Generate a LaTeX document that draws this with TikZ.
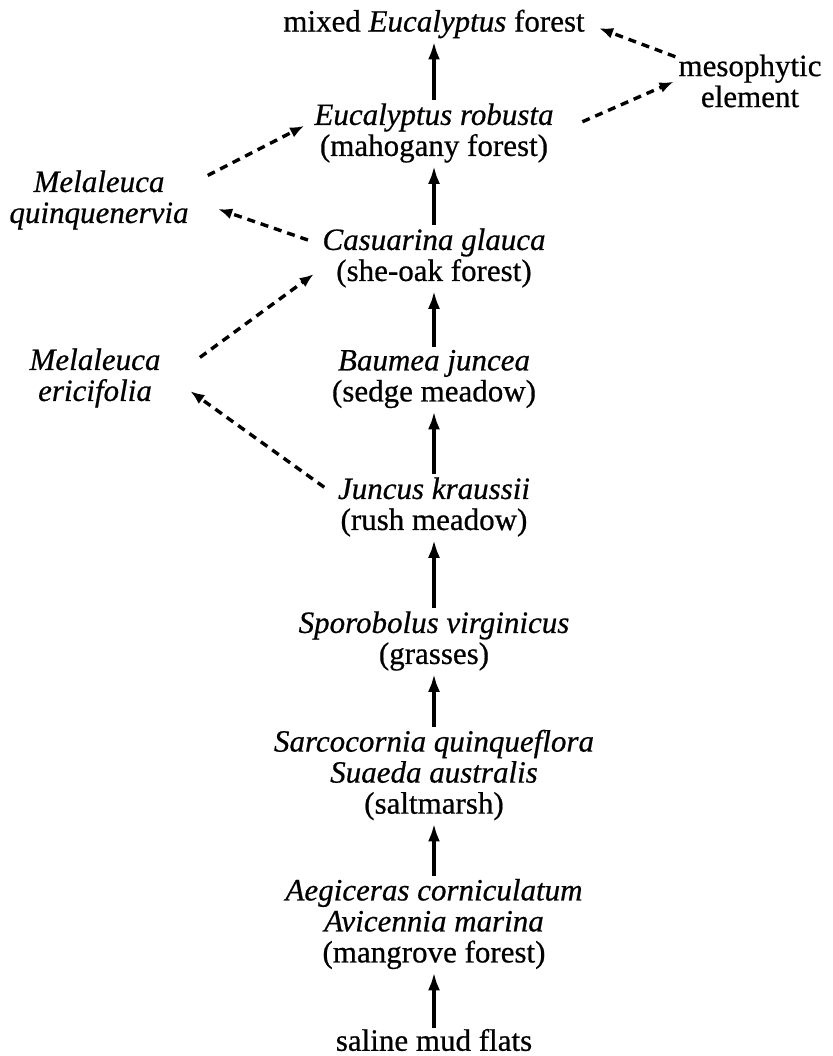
\documentclass[tikz,border=0pt]{standalone}
\usepackage{fontspec}
\setmainfont{Liberation Serif}[FakeBold=0.6]
\usepackage{tikz}
\usetikzlibrary{arrows.meta}

\begin{document}
\begin{tikzpicture}[x=1pt, y=-1pt,
  stage/.style={align=center, font=\fontsize{31}{31}\selectfont, inner sep=3pt},
  succ/.style={-{Latex[length=18pt,width=12pt]}, line width=3.6pt},
  influence/.style={-{Latex[length=14pt,width=11pt]}, line width=3.4pt, dash pattern=on 8pt off 6pt}]
  \useasboundingbox (0,0) rectangle (832,1056);
  % Succession column, from top to bottom
  \node[stage] (mixed) at (434,24) {mixed \textit{Eucalyptus} forest};
  \node[stage] (robusta) at (434,133) {\textit{Eucalyptus robusta}\\(mahogany forest)};
  \node[stage] (casuarina) at (434,258) {\textit{Casuarina glauca}\\(she-oak forest)};
  \node[stage] (baumea) at (434,379) {\textit{Baumea juncea}\\(sedge meadow)};
  \node[stage] (juncus) at (434,507) {\textit{Juncus kraussii}\\(rush meadow)};
  \node[stage] (sporo) at (434,641) {\textit{Sporobolus virginicus}\\(grasses)};
  \node[stage] (sarco) at (434,775) {\textit{Sarcocornia quinqueflora}\\\textit{Suaeda australis}\\(saltmarsh)};
  \node[stage] (aegic) at (434,924) {\textit{Aegiceras corniculatum}\\\textit{Avicennia marina}\\(mangrove forest)};
  \node[stage, inner sep=1pt] (mud) at (434,1040) {saline mud flats};
  % Side elements
  \node[stage] (meso) at (750,81) {mesophytic\\element};
  \node[stage] (quinq) at (99,200) {\textit{Melaleuca}\\\textit{quinquenervia}};
  \node[stage] (eric) at (95,378) {\textit{Melaleuca}\\\textit{ericifolia}};

  % Main succession
  \foreach \lo/\hi in {mud/aegic, aegic/sarco, sarco/sporo, sporo/juncus,
                       juncus/baumea, baumea/casuarina, casuarina/robusta, robusta/mixed}
    \draw[succ] (\lo.north) -- (\hi.south);

  % Side influences
  \draw[influence, shorten >=12pt] (meso.162) -- (mixed.east);
  \draw[influence, shorten <=28pt, shorten >=2pt] (robusta.east) -- (meso.west);
  \draw[influence, shorten <=18pt, shorten >=8pt] (quinq.10) -- (robusta.175);
  \draw[influence, shorten <=12pt, shorten >=28pt] (casuarina.173) -- (quinq.east);
  \draw[influence, shorten <=45pt, shorten >=7pt] (eric.-5) -- (casuarina.186);
  \draw[influence, shorten <=13pt, shorten >=33pt] (juncus.173) -- (eric.5);
\end{tikzpicture}
\end{document}
